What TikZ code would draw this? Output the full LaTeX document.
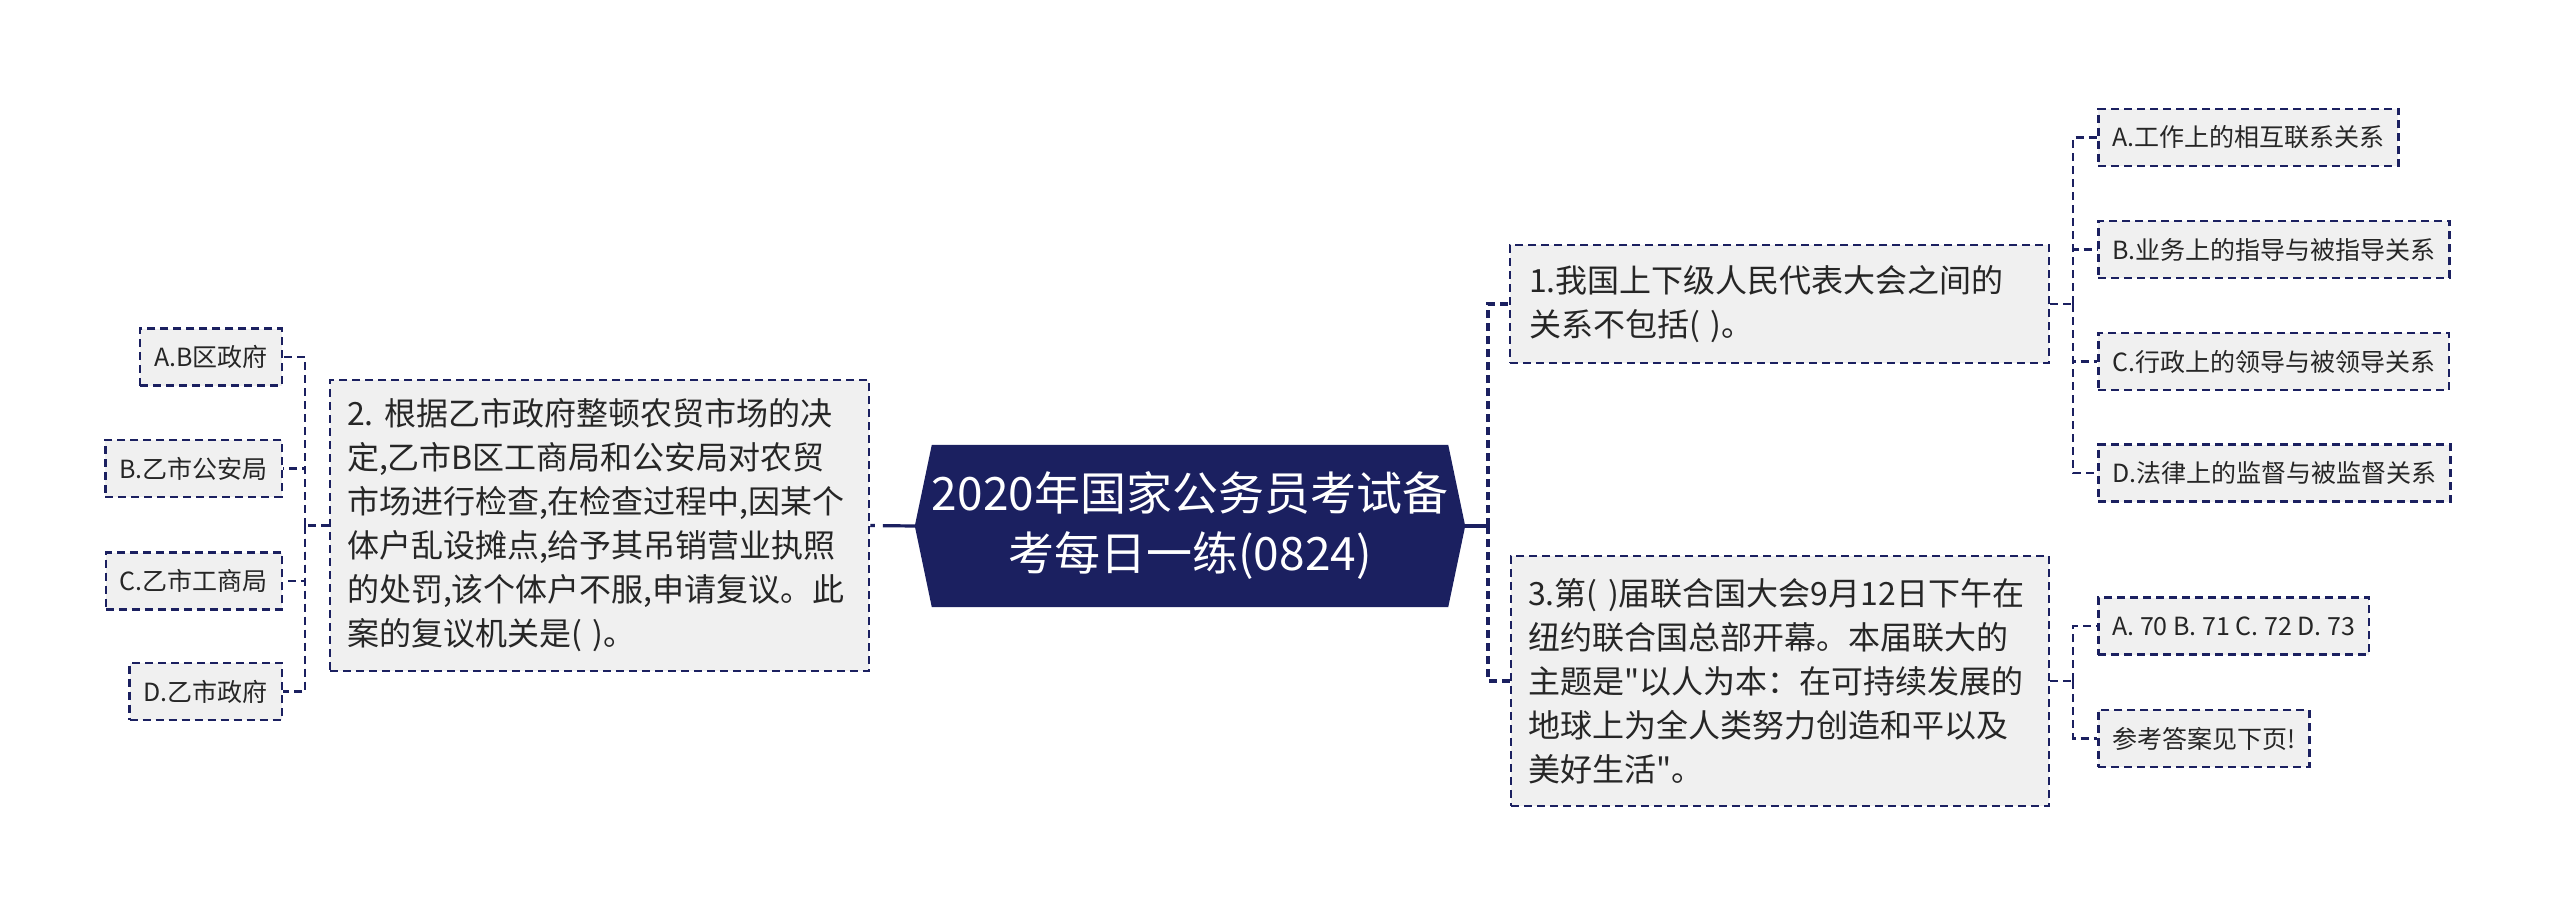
\documentclass[tikz,border=0pt]{standalone}
\usepackage{fontspec}
\setmainfont{Noto Sans CJK SC}[Ligatures=TeXOff]
\usetikzlibrary{backgrounds}
\definecolor{navy}{RGB}{27,32,96}
\definecolor{boxgray}{RGB}{240,240,240}
\definecolor{txt}{RGB}{38,38,38}
\tikzset{
  box/.style={draw=navy, line width=2.5pt, dash pattern=on 8pt off 5pt, fill=boxgray, text=txt, inner ysep=0pt},
  lvl/.style={box, font=\fontsize{32}{44}\selectfont, align=left},
  leaf/.style={box, font=\fontsize{25}{30}\selectfont, inner xsep=14pt, minimum height=57pt},
  rootnode/.style={text=white, font=\fontsize{46}{60}\selectfont, align=center, inner sep=0pt, minimum width=550pt, minimum height=162pt},
  rootln/.style={draw=navy, line width=3.2pt},
  rootdash/.style={rootln, dash pattern=on 8pt off 5pt},
  leafln/.style={draw=navy, line width=2.5pt, dash pattern=on 8pt off 5pt}
}
\begin{document}
\begin{tikzpicture}[x=1pt,y=-1pt]
\useasboundingbox (0,0) rectangle (2560,914);
% root
\node[rootnode] (root) at (1190,526) {2020年国家公务员考试备\\考每日一练(0824)};
\begin{scope}[on background layer]
\fill[white] (0,0) rectangle (2560,914);
\fill[navy] (root.west) -- ([xshift=17pt]root.north west) -- ([xshift=-17pt]root.north east) -- (root.east) -- ([xshift=-17pt]root.south east) -- ([xshift=17pt]root.south west) -- cycle;
\end{scope}
% level 1
\node[lvl, inner xsep=19pt, text width=501pt, minimum height=118pt] (n1) at (1779.5,304) {1.我国上下级人民代表大会之间的\\关系不包括(~)。};
\node[lvl, inner xsep=17pt, text width=505pt, minimum height=291pt] (n2) at (599.5,525.5) {2.~根据乙市政府整顿农贸市场的决\\定,乙市B区工商局和公安局对农贸\\市场进行检查,在检查过程中,因某个\\体户乱设摊点,给予其吊销营业执照\\的处罚,该个体户不服,申请复议。此\\案的复议机关是(~)。};
\node[lvl, inner xsep=17pt, text width=504pt, minimum height=250pt] (n3) at (1780,681) {3.第(~)届联合国大会9月12日下午在\\纽约联合国总部开幕。本届联大的\\主题是"以人为本：在可持续发展的\\地球上为全人类努力创造和平以及\\美好生活"。};
% leaves of n1
\node[leaf, anchor=west] (a1) at (2097,137.5) {A.工作上的相互联系关系};
\node[leaf, anchor=west] (b1) at (2097,249.5) {B.业务上的指导与被指导关系};
\node[leaf, anchor=west] (c1) at (2097,361.5) {C.行政上的领导与被领导关系};
\node[leaf, anchor=west] (d1) at (2097,473) {D.法律上的监督与被监督关系};
% leaves of n3
\node[leaf, anchor=west] (a3) at (2097,626) {A. 70 B. 71 C. 72 D. 73};
\node[leaf, anchor=west] (b3) at (2097,738.5) {参考答案见下页!};
% leaves of n2
\node[leaf, anchor=east] (a2) at (283,357) {A.B区政府};
\node[leaf, anchor=east] (b2) at (283,468.5) {B.乙市公安局};
\node[leaf, anchor=east] (c2) at (283,581) {C.乙市工商局};
\node[leaf, anchor=east] (d2) at (283,691.5) {D.乙市政府};
% root connectors
\coordinate (rb) at (1488,526);
\draw[rootln] (root.east) -- (rb);
\draw[rootdash] (rb) |- (n1.west);
\draw[rootdash] (rb) |- (n3.west);
\draw[rootln, dash pattern=on 32pt off 8pt on 8pt off 8pt] (root.west) -- (n2.east);
% leaf connectors
\coordinate (bx1) at (2073,304);
\coordinate (bx3) at (2073,681);
\coordinate (bx2) at (305,525.5);
\draw[leafln] (n1.east) -- (bx1);
\foreach \t in {a1,b1,c1,d1} \draw[leafln] (bx1) |- (\t.west);
\draw[leafln] (n3.east) -- (bx3);
\foreach \t in {a3,b3} \draw[leafln] (bx3) |- (\t.west);
\draw[leafln] (n2.west) -- (bx2);
\foreach \t in {a2,b2,c2,d2} \draw[leafln] (bx2) |- (\t.east);
\end{tikzpicture}
\end{document}
